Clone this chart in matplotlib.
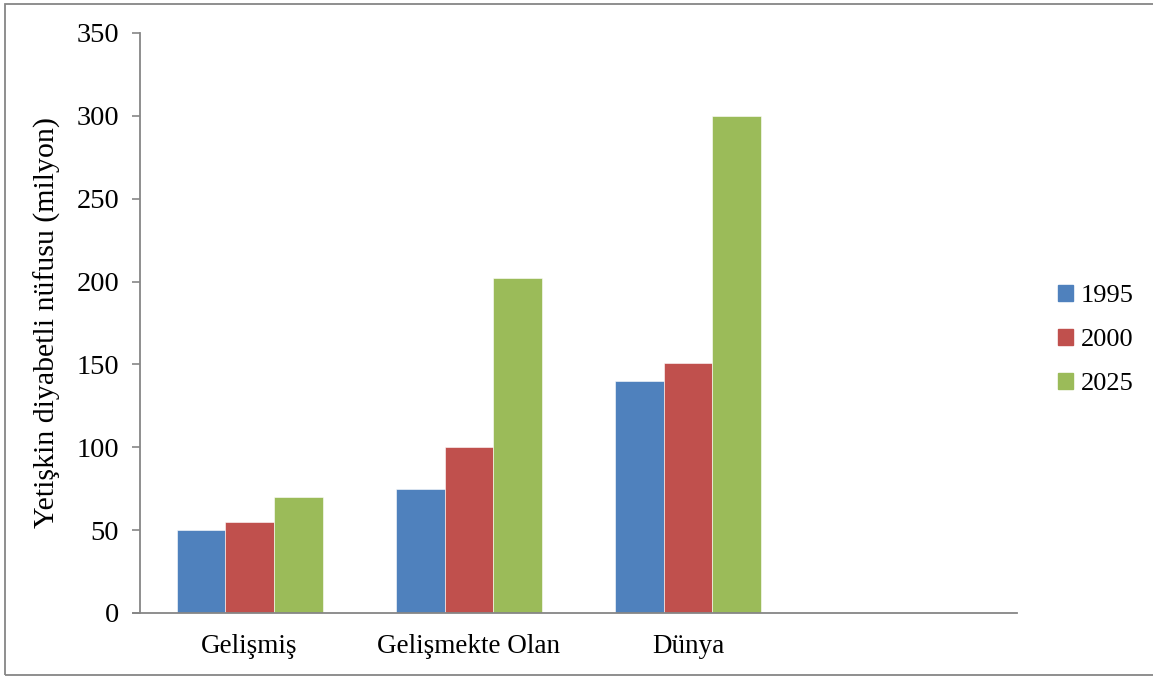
import matplotlib
matplotlib.use('Agg')
import matplotlib.pyplot as plt
import matplotlib.patches as mpatches
import numpy as np

# data
categories = ['Gelişmiş', 'Gelişmekte Olan', 'Dünya', '']
years = ['1995', '2000', '2025']
vals_1995 = [50, 75, 140, None]
vals_2000 = [55, 100, 151, None]
vals_2025 = [70, 202, 300, None]

COLORS = ['#4F81BD', '#C0504D', '#9BBB59']
AXIS_GREY = '#868686'

plt.rcParams['font.family'] = ['Liberation Serif', 'DejaVu Serif']

fig = plt.figure(figsize=(11.53, 6.77), dpi=100)
ax = fig.add_axes([140 / 1153, 1 - 613 / 677, (1017 - 140) / 1153, (613 - 33) / 677])

x = np.arange(len(categories))
w = 0.222
for i, (series, col, lab) in enumerate(zip([vals_1995, vals_2000, vals_2025], COLORS, years)):
    xs = [xi for xi, v in zip(x, series) if v is not None]
    ys = [v for v in series if v is not None]
    ax.bar(np.array(xs) + (i - 1) * w, ys, width=w, color=col, label=lab,
           edgecolor='white', linewidth=0.4)

ax.set_xlim(-0.5, len(categories) - 0.5)
ax.set_ylim(0, 350)
ax.set_yticks(range(0, 351, 50))
ax.set_xticks(x)
ax.set_xticklabels(categories)

ax.tick_params(axis='y', direction='out', length=6, width=1.2, color=AXIS_GREY,
               labelsize=20.5, pad=9)
ax.tick_params(axis='x', length=0, labelsize=19.5, pad=15)

for s in ['top', 'right']:
    ax.spines[s].set_visible(False)
for s in ['left', 'bottom']:
    ax.spines[s].set_color(AXIS_GREY)
    ax.spines[s].set_linewidth(1.3)
ax.spines['bottom'].set_bounds(-0.5 - 7 / 219.25, len(categories) - 0.5)

ax.set_ylabel('Yetişkin diyabetli nüfusu (milyon)', fontsize=21.5, labelpad=11)

patches = [mpatches.Patch(color=c, label=l) for c, l in zip(COLORS, years)]
fig.legend(handles=patches, loc='center left', bbox_to_anchor=(1045 / 1153, 1 - 340 / 677),
           frameon=False, fontsize=19, handlelength=0.55, handleheight=0.55,
           handletextpad=0.3, labelspacing=0.83, borderpad=0)

# outer chart border
fig.patches.append(mpatches.Rectangle((5 / 1153, 1 - 675 / 677), 1.1, 671 / 677,
                                      transform=fig.transFigure, fill=False,
                                      edgecolor=AXIS_GREY, linewidth=1.3))

fig.savefig('out.png', dpi=100)
